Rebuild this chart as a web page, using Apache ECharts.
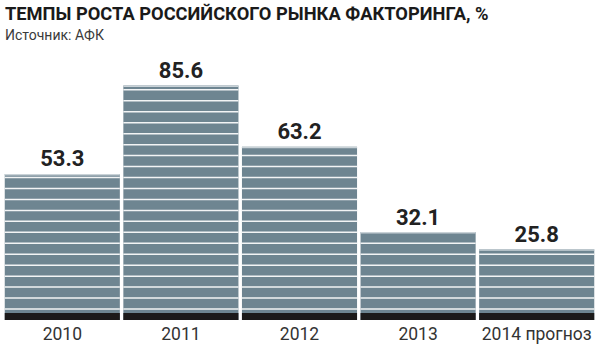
<!DOCTYPE html>
<html><head><meta charset="utf-8">
<script src="https://cdn.jsdelivr.net/npm/echarts@6/dist/echarts.min.js"></script>
<style>html,body{margin:0;padding:0;background:#fff}#c{width:600px;height:345px}</style>
</head><body><div id="c"></div>
<script>
const titleText = 'ТЕМПЫ РОСТА РОССИЙСКОГО РЫНКА ФАКТОРИНГА, %';
const subtitleText = 'Источник: АФК';
const categories = ['2010', '2011', '2012', '2013', '2014 прогноз'];
const growth = [53.3, 85.6, 63.2, 32.1, 25.8];
const stripeStep = 4;

const chart = echarts.init(document.getElementById('c'), null, {renderer: 'svg'});
chart.setOption({
  animation: false,
  title: {
    text: titleText, subtext: subtitleText, left: 0, top: -1, itemGap: 6,
    textStyle: {fontFamily: 'Roboto', fontWeight: 'bold', fontSize: 18.3, color: '#1a1a1a'},
    subtextStyle: {fontFamily: 'Roboto', fontSize: 14, color: '#3a3a3a'}
  },
  grid: {left: 3, right: 4, top: 46, bottom: 25},
  xAxis: {
    type: 'category', data: categories,
    axisLine: {show: false}, axisTick: {show: false},
    axisLabel: {interval: 0, fontFamily: 'Roboto', fontSize: 17.5, color: '#333', margin: 5}
  },
  yAxis: {type: 'value', min: 0, max: 100, show: false, splitLine: {show: false}},
  series: [{
    type: 'custom',
    data: growth.map((v, i) => [i, v]),
    renderItem: function (params, api) {
      const idx = api.value(0), val = api.value(1);
      const base = api.coord([idx, 0]);
      const top = api.coord([idx, val]);
      const bw = api.size([1, 0])[0] - 3.5;
      const x0 = base[0] - bw / 2;
      const children = [
        {type: 'rect', shape: {x: x0, y: top[1], width: bw, height: base[1] - top[1]}, style: {fill: '#6e8591'}},
        {type: 'rect', shape: {x: x0, y: top[1], width: bw, height: 1.5}, style: {fill: '#c9d2d7'}}
      ];
      for (let k = stripeStep; k < val - 1; k += stripeStep) {
        const y = api.coord([idx, k])[1];
        children.push({type: 'rect', shape: {x: x0, y: y - 0.75, width: bw, height: 1.5}, style: {fill: '#f2f4f5'}});
      }
      children.push({type: 'rect', shape: {x: x0, y: base[1] - 7, width: bw, height: 7}, style: {fill: '#1c1a1a'}});
      children.push({type: 'text', x: base[0], y: top[1] - 4,
        style: {text: String(val), fontFamily: 'Roboto', fontWeight: 'bold', fontSize: 22, fill: '#222', align: 'center', verticalAlign: 'bottom'}});
      return {type: 'group', children: children};
    }
  }]
});
</script></body></html>
